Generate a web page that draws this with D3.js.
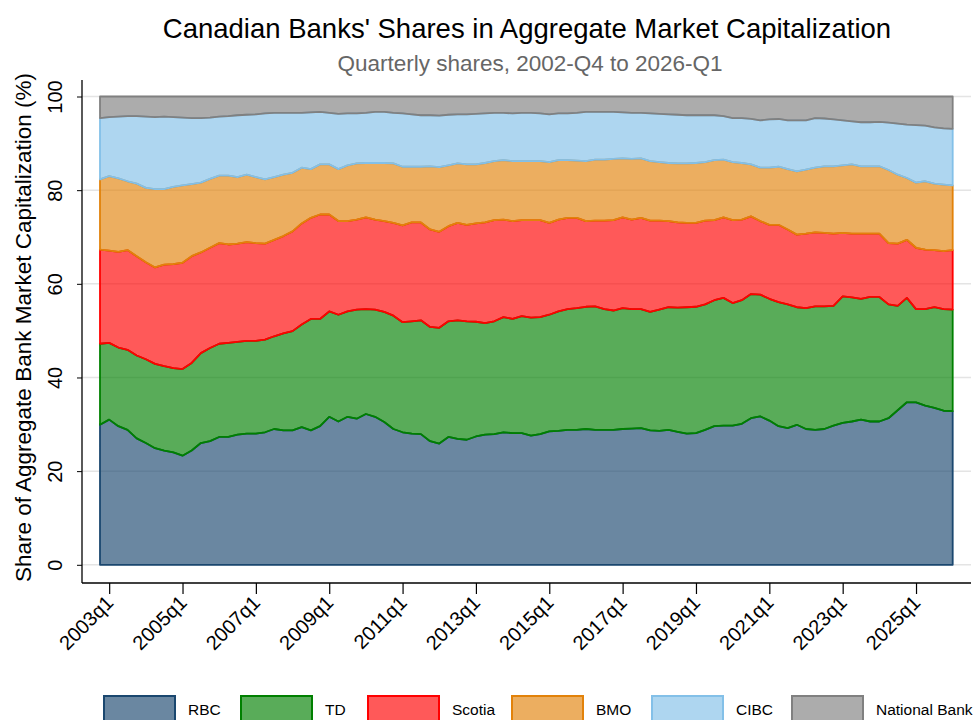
<!DOCTYPE html>
<html>
<head>
<meta charset="utf-8">
<script src="https://cdn.jsdelivr.net/npm/d3@7"></script>
<style>
  body { margin: 0; background: #fff; }
  svg { display: block; font-family: 'Liberation Sans', Arial, sans-serif; }
</style>
</head>
<body>
<script>
// quarter labels, 2002q4 .. 2026q1
var quarters = [];
for (var yr = 2002; yr <= 2026; yr++) {
    for (var q = 1; q <= 4; q++) {
        if ((yr === 2002 && q < 4) || (yr === 2026 && q > 1)) continue;
        quarters.push(yr + 'q' + q);
    }
}
var xTicks = ['2003q1', '2005q1', '2007q1', '2009q1', '2011q1', '2013q1', '2015q1',
              '2017q1', '2019q1', '2021q1', '2023q1', '2025q1'];
var yTicks = [0, 20, 40, 60, 80, 100];

var banks = ['RBC', 'TD', 'Scotia', 'BMO', 'CIBC', 'National Bank'];

// shares (%), one value per quarter
var rbc = [29.9,31.0,29.6,28.8,27.0,26.0,24.9,24.4,24.0,23.3,
    24.4,26.0,26.4,27.3,27.3,27.8,28.0,28.0,28.3,29.0,
    28.7,28.7,29.4,28.7,29.6,31.6,30.6,31.6,31.2,32.2,
    31.6,30.5,29.0,28.3,28.0,27.9,26.4,25.9,27.3,26.9,
    26.7,27.4,27.8,27.9,28.3,28.1,28.1,27.6,27.9,28.5,
    28.6,28.8,28.8,29.0,28.8,28.8,28.8,29.0,29.1,29.2,
    28.7,28.6,28.8,28.4,28.0,28.1,28.8,29.6,29.7,29.7,
    30.1,31.3,31.7,30.8,29.6,29.2,29.9,29.0,28.8,29.0,
    29.7,30.3,30.6,31.0,30.6,30.6,31.3,33.0,34.7,34.7,
    34.0,33.5,32.9,32.8];
var td = [17.3,16.4,16.8,17.1,17.7,17.9,18.0,18.0,18.0,18.5,
    18.7,19.2,19.9,19.9,20.1,19.8,19.8,19.8,19.8,19.8,
    20.7,21.2,21.9,23.8,22.9,22.5,22.8,22.5,23.3,22.4,
    22.9,23.5,24.2,23.5,24.0,24.3,24.4,24.7,24.7,25.3,
    25.3,24.5,23.8,24.1,24.6,24.4,25.0,25.2,25.0,24.9,
    25.5,25.8,26.0,26.1,26.4,25.8,25.5,25.8,25.5,25.4,
    25.3,25.9,26.2,26.5,27.0,27.0,26.8,26.9,27.3,26.2,
    26.4,26.5,26.0,26.0,26.5,26.4,25.1,25.8,26.4,26.2,
    25.6,27.0,26.5,25.8,26.6,26.6,24.3,22.3,22.3,19.9,
    20.6,21.5,21.7,21.7];
var scotia = [20.1,19.7,20.4,21.3,21.2,20.7,20.6,21.7,22.2,22.7,
    22.8,21.5,21.4,21.5,21.0,21.0,21.1,20.9,20.5,20.6,
    20.8,21.3,21.6,21.6,22.3,20.7,20.0,19.3,19.2,19.6,
    19.2,19.4,19.8,20.7,21.1,20.9,20.8,20.5,20.3,20.8,
    20.6,21.0,21.5,21.6,20.8,20.9,20.5,20.8,20.7,19.6,
    19.6,19.5,19.3,18.3,18.3,18.9,19.3,19.4,19.1,19.5,
    19.5,19.0,18.4,18.2,18.0,17.9,17.9,17.1,17.2,17.7,
    17.2,16.6,15.7,15.8,16.5,16.0,15.5,15.9,15.8,15.7,
    15.4,13.6,13.6,13.9,13.5,13.5,13.1,13.3,12.4,13.1,
    12.7,12.2,12.4,12.7];
var bmo = [15.0,15.9,15.7,14.7,15.5,15.9,16.7,16.1,16.5,16.5,
    15.4,14.9,14.7,14.4,14.7,14.2,14.4,14.1,13.7,13.4,
    13.1,12.5,11.9,10.4,10.7,10.7,11.1,11.9,12.0,11.6,
    12.1,12.4,12.7,12.5,11.9,11.9,13.5,13.8,13.0,12.7,
    12.9,12.6,12.7,12.6,12.7,12.8,12.6,12.6,12.6,13.0,
    12.7,12.3,12.2,12.8,13.0,13.0,13.1,12.6,13.0,12.7,
    12.7,12.5,12.4,12.6,12.7,12.8,12.5,12.8,12.3,12.4,
    12.1,11.1,11.4,12.2,12.4,12.9,13.5,13.7,13.8,14.2,
    14.4,14.4,14.8,14.4,14.4,14.4,15.6,14.7,13.2,13.9,
    14.6,14.2,14.2,13.8];
var cibc = [13.1,12.6,13.2,13.9,14.4,15.2,15.4,15.5,14.9,14.5,
    14.1,13.8,13.1,12.6,12.7,13.2,12.8,13.4,14.1,13.7,
    13.2,12.8,11.7,12.1,11.2,11.0,11.8,11.1,10.7,10.7,
    10.9,10.9,10.8,11.4,11.2,11.0,10.9,11.0,10.8,10.5,
    10.7,10.8,10.6,10.3,10.1,10.2,10.3,10.3,10.2,10.2,
    10.0,10.0,10.2,10.5,10.2,10.2,10.0,9.8,9.8,9.7,
    10.2,10.3,10.4,10.4,10.3,10.2,10.0,9.6,9.3,9.4,
    9.6,9.7,10.1,10.3,10.2,10.4,10.9,10.5,10.6,10.2,
    10.0,9.6,9.2,9.4,9.4,9.5,10.1,10.9,11.4,12.3,
    11.9,12.0,12.0,12.1];
var national = [4.6,4.4,4.3,4.2,4.2,4.3,4.4,4.3,4.4,4.5,
    4.6,4.6,4.5,4.3,4.2,4.0,3.9,3.8,3.6,3.5,
    3.5,3.5,3.5,3.4,3.3,3.5,3.7,3.6,3.6,3.5,
    3.3,3.3,3.5,3.6,3.8,4.0,4.0,4.1,3.9,3.8,
    3.8,3.7,3.6,3.5,3.5,3.6,3.5,3.5,3.6,3.8,
    3.6,3.6,3.5,3.3,3.3,3.3,3.3,3.4,3.5,3.5,
    3.6,3.7,3.8,3.9,4.0,4.0,4.0,4.0,4.2,4.6,
    4.6,4.8,5.1,4.9,4.8,5.1,5.1,5.1,4.6,4.7,
    4.9,5.1,5.3,5.5,5.5,5.4,5.6,5.8,6.0,6.1,
    6.2,6.6,6.8,6.9];

var series = [rbc, td, scotia, bmo, cibc, national];
var strokes = ['#1a476f', '#008000', '#ff0000', '#e2820a', '#83c0e8', '#808080'];

var rows = quarters.map(function (qq, i) {
    var r = { q: qq };
    banks.forEach(function (b, k) { r[b] = series[k][i]; });
    return r;
});

var svgwidth = 976, svgheight = 720,
    plotLeft = 82, plotRight = 971, plotTop = 80, plotBottom = 583;

var svg = d3.select('body').append('svg')
    .attr('width', svgwidth)
    .attr('height', svgheight);

var xscale = d3.scalePoint().domain(quarters).range([100, 952.7]);
var yscale = d3.scaleLinear().domain([0, 100]).range([564.8, 96.5]);

// gridlines
svg.append('g').selectAll('line')
    .data(yTicks)
    .enter().append('line')
    .attr('x1', plotLeft).attr('x2', plotRight)
    .attr('y1', function (d) { return yscale(d); })
    .attr('y2', function (d) { return yscale(d); })
    .attr('stroke', '#e4e4e4')
    .attr('stroke-width', 1.5);

// stacked bands
var stacked = d3.stack().keys(banks)(rows);
var area = d3.area()
    .x(function (d) { return xscale(d.data.q); })
    .y0(function (d) { return yscale(d[0]); })
    .y1(function (d) { return yscale(d[1]); });

svg.append('g').selectAll('path')
    .data(stacked)
    .enter().append('path')
    .attr('d', area)
    .attr('fill', function (d, i) { return strokes[i]; })
    .attr('fill-opacity', 0.65)
    .attr('stroke', function (d, i) { return strokes[i]; })
    .attr('stroke-width', 1.8)
    .attr('stroke-linejoin', 'round');

// y axis
var yaxis = d3.axisLeft(yscale).tickValues(yTicks).tickSize(5).tickSizeOuter(0);
var yg = svg.append('g')
    .attr('transform', 'translate(' + plotLeft + ',0)')
    .call(yaxis);
yg.select('.domain').remove();
yg.selectAll('line').attr('stroke', '#000');
yg.selectAll('text')
    .attr('transform', 'rotate(-90)')
    .attr('x', 0).attr('y', -20).attr('dy', 0)
    .attr('text-anchor', 'middle')
    .attr('font-size', '20px')
    .attr('font-family', "'Liberation Sans', Arial, sans-serif")
    .attr('fill', '#000');
svg.append('line')
    .attr('x1', plotLeft).attr('x2', plotLeft)
    .attr('y1', plotTop).attr('y2', plotBottom)
    .attr('stroke', '#000').attr('stroke-width', 1.3);

// x axis
var xaxis = d3.axisBottom(xscale).tickValues(xTicks).tickSize(11).tickSizeOuter(0);
var xg = svg.append('g')
    .attr('transform', 'translate(0,' + plotBottom + ')')
    .call(xaxis);
xg.select('.domain').remove();
xg.selectAll('line').attr('stroke', '#000').attr('stroke-width', 1.2);
xg.selectAll('text')
    .attr('transform', 'translate(5,21) rotate(-45)')
    .attr('x', 0).attr('y', 0).attr('dy', 0)
    .attr('text-anchor', 'end')
    .attr('font-size', '20px')
    .attr('font-family', "'Liberation Sans', Arial, sans-serif")
    .attr('fill', '#000');
svg.append('line')
    .attr('x1', plotLeft).attr('x2', plotRight)
    .attr('y1', plotBottom).attr('y2', plotBottom)
    .attr('stroke', '#000').attr('stroke-width', 1.3);

// titles
svg.append('text')
    .attr('x', 527).attr('y', 38)
    .attr('text-anchor', 'middle')
    .attr('font-size', '27.5px')
    .text("Canadian Banks' Shares in Aggregate Market Capitalization");
svg.append('text')
    .attr('x', 530).attr('y', 71)
    .attr('text-anchor', 'middle')
    .attr('font-size', '22.5px')
    .attr('fill', '#666')
    .text('Quarterly shares, 2002-Q4 to 2026-Q1');
svg.append('text')
    .attr('transform', 'translate(31,' + ((plotTop + plotBottom) / 2 - 4) + ') rotate(-90)')
    .attr('text-anchor', 'middle')
    .attr('font-size', '22.5px')
    .text('Share of Aggregate Bank Market Capitalization (%)');

// legend
var legendX = [104, 241, 368, 512, 652, 792];
var legend = svg.append('g').selectAll('g')
    .data(banks)
    .enter().append('g')
    .attr('transform', function (d, i) { return 'translate(' + legendX[i] + ',696)'; });
legend.append('rect')
    .attr('width', 71).attr('height', 30)
    .attr('fill', function (d, i) { return strokes[i]; })
    .attr('fill-opacity', 0.65)
    .attr('stroke', function (d, i) { return strokes[i]; })
    .attr('stroke-width', 2);
legend.append('text')
    .attr('x', 84).attr('y', 19)
    .attr('font-size', '15.5px')
    .text(function (d) { return d; });
</script>
</body>
</html>
